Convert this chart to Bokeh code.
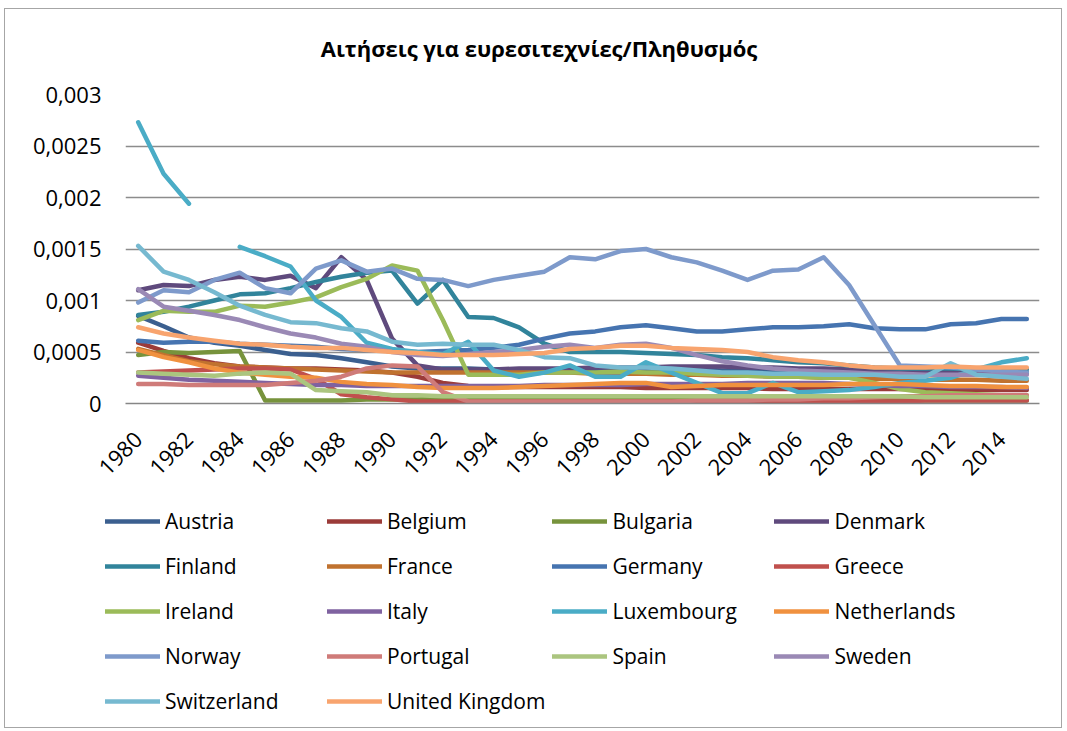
import numpy as np
from bokeh.plotting import figure
from bokeh.layouts import column
from bokeh.models import (Legend, LegendItem, FixedTicker, Range1d, Label,
                          CustomJSTickFormatter, ColumnDataSource)
from bokeh.embed import file_html
from bokeh.resources import INLINE
from math import pi

years = list(range(1980, 2016))

Austria = [0.00085,0.00075,0.00064,0.00059,0.00056,0.00052,0.00048,0.00047,0.00044,0.00040,0.00036,0.00034,0.00034,0.00034,0.00033,0.00032,0.00032,0.00033,0.00033,0.00033,0.00034,0.00033,0.00033,0.00032,0.00032,0.00031,0.00031,0.00031,0.00030,0.00030,0.00030,0.00030,0.00030,0.00030,0.00029,0.00029]
Belgium = [0.00059,0.00051,0.00044,0.00039,0.00036,0.00035,0.00034,0.00034,0.00033,0.00032,0.00030,0.00026,0.00020,0.00017,0.00016,0.00016,0.00016,0.00016,0.00016,0.00016,0.00015,0.00015,0.00015,0.00015,0.00015,0.00014,0.00014,0.00014,0.00014,0.00014,0.00014,0.00014,0.00013,0.00013,0.00013,0.00013]
Bulgaria = [0.00047,0.00050,0.00049,0.00050,0.00051,0.00003,0.00003,0.00003,0.00003,0.00004,0.00004,0.00004,0.00005,0.00005,0.00005,0.00005,0.00005,0.00005,0.00005,0.00005,0.00005,0.00005,0.00005,0.00005,0.00004,0.00004,0.00004,0.00004,0.00004,0.00003,0.00003,0.00003,0.00003,0.00003,0.00003,0.00003]
Denmark = [0.00110,0.00115,0.00114,0.00120,0.00123,0.00120,0.00124,0.00112,0.00142,0.00120,0.00063,0.00037,0.00033,0.00033,0.00033,0.00034,0.00034,0.00034,0.00035,0.00035,0.00035,0.00036,0.00036,0.00036,0.00035,0.00035,0.00034,0.00034,0.00033,0.00032,0.00031,0.00031,0.00030,0.00030,0.00030,0.00030]
Finland = [0.00086,0.00089,0.00094,0.00100,0.00106,0.00107,0.00112,0.00118,0.00123,0.00127,0.00129,0.00097,0.00120,0.00084,0.00083,0.00074,0.00058,0.00050,0.00050,0.00050,0.00049,0.00048,0.00047,0.00045,0.00044,0.00042,0.00040,0.00039,0.00037,0.00035,0.00034,0.00034,0.00034,0.00033,0.00033,0.00033]
France = [0.00053,0.00047,0.00041,0.00038,0.00036,0.00035,0.00034,0.00033,0.00032,0.00031,0.00030,0.00030,0.00030,0.00030,0.00030,0.00030,0.00030,0.00030,0.00029,0.00029,0.00029,0.00028,0.00028,0.00027,0.00027,0.00026,0.00026,0.00025,0.00025,0.00024,0.00024,0.00023,0.00023,0.00023,0.00022,0.00022]
Germany = [0.00061,0.00059,0.00060,0.00060,0.00058,0.00057,0.00056,0.00055,0.00053,0.00052,0.00051,0.00050,0.00051,0.00052,0.00054,0.00057,0.00063,0.00068,0.00070,0.00074,0.00076,0.00073,0.00070,0.00070,0.00072,0.00074,0.00074,0.00075,0.00077,0.00073,0.00072,0.00072,0.00077,0.00078,0.00082,0.00082]
Greece = [0.00030,0.00031,0.00032,0.00033,0.00034,0.00034,0.00033,0.00024,0.00009,0.00006,0.00004,0.00002,0.00002,0.00002,0.00002,0.00002,0.00002,0.00002,0.00002,0.00002,0.00002,0.00002,0.00002,0.00002,0.00002,0.00002,0.00002,0.00002,0.00002,0.00002,0.00002,0.00003,0.00003,0.00003,0.00003,0.00003]
Ireland = [0.00081,0.00090,0.00089,0.00089,0.00095,0.00094,0.00098,0.00103,0.00113,0.00121,0.00134,0.00129,0.00081,0.00028,0.00028,0.00028,0.00030,0.00030,0.00030,0.00031,0.00030,0.00030,0.00029,0.00028,0.00027,0.00026,0.00026,0.00025,0.00025,0.00020,0.00014,0.00011,0.00010,0.00009,0.00008,0.00008]
Italy = [0.00027,0.00025,0.00023,0.00022,0.00021,0.00020,0.00019,0.00018,0.00018,0.00017,0.00017,0.00017,0.00017,0.00017,0.00017,0.00017,0.00018,0.00018,0.00018,0.00018,0.00019,0.00019,0.00019,0.00019,0.00020,0.00020,0.00020,0.00020,0.00019,0.00018,0.00017,0.00017,0.00016,0.00016,0.00016,0.00015]
Luxembourg = [0.00273,0.00223,0.00194,None,0.00152,0.00143,0.00133,0.00100,0.00084,0.00059,0.00053,0.00050,0.00048,0.00060,0.00032,0.00026,0.00030,0.00037,0.00026,0.00026,0.00040,0.00030,0.00020,0.00010,0.00010,0.00020,0.00011,0.00012,0.00013,0.00016,0.00020,0.00022,0.00025,0.00033,0.00040,0.00044]
Netherlands = [0.00052,0.00045,0.00040,0.00034,0.00030,0.00028,0.00026,0.00025,0.00021,0.00019,0.00018,0.00016,0.00015,0.00015,0.00015,0.00016,0.00017,0.00018,0.00019,0.00020,0.00020,0.00016,0.00017,0.00018,0.00018,0.00018,0.00018,0.00018,0.00019,0.00019,0.00019,0.00018,0.00017,0.00017,0.00016,0.00016]
Norway = [0.00098,0.00110,0.00108,0.00120,0.00127,0.00112,0.00107,0.00131,0.00139,0.00128,0.00131,0.00121,0.00120,0.00114,0.00120,0.00124,0.00128,0.00142,0.00140,0.00148,0.00150,0.00142,0.00137,0.00129,0.00120,0.00129,0.00130,0.00142,0.00115,0.00076,0.00037,0.00036,0.00035,0.00033,0.00031,0.00030]
Portugal = [0.00019,0.00019,0.00018,0.00018,0.00018,0.00018,0.00020,0.00022,0.00026,0.00034,0.00037,0.00036,0.00011,0.00002,0.00002,0.00002,0.00002,0.00002,0.00002,0.00002,0.00002,0.00002,0.00003,0.00003,0.00003,0.00004,0.00004,0.00005,0.00005,0.00006,0.00007,0.00007,0.00008,0.00008,0.00008,0.00008]
Spain = [0.00030,0.00029,0.00028,0.00027,0.00029,0.00030,0.00029,0.00013,0.00012,0.00011,0.00008,0.00008,0.00007,0.00007,0.00007,0.00007,0.00007,0.00007,0.00007,0.00007,0.00007,0.00007,0.00007,0.00007,0.00007,0.00007,0.00007,0.00007,0.00007,0.00007,0.00007,0.00006,0.00006,0.00006,0.00006,0.00006]
Sweden = [0.00111,0.00094,0.00090,0.00086,0.00081,0.00074,0.00068,0.00064,0.00058,0.00055,0.00050,0.00047,0.00046,0.00048,0.00050,0.00052,0.00055,0.00057,0.00054,0.00057,0.00058,0.00054,0.00047,0.00041,0.00037,0.00034,0.00032,0.00031,0.00030,0.00029,0.00029,0.00028,0.00028,0.00028,0.00028,0.00028]
Switzerland = [0.00153,0.00128,0.00120,0.00108,0.00095,0.00086,0.00079,0.00078,0.00073,0.00070,0.00060,0.00057,0.00058,0.00057,0.00057,0.00052,0.00045,0.00044,0.00037,0.00035,0.00035,0.00034,0.00032,0.00030,0.00030,0.00029,0.00029,0.00028,0.00028,0.00028,0.00026,0.00026,0.00039,0.00028,0.00026,0.00024]
United_Kingdom = [0.00074,0.00068,0.00064,0.00061,0.00058,0.00057,0.00055,0.00054,0.00054,0.00052,0.00050,0.00049,0.00047,0.00047,0.00047,0.00048,0.00049,0.00053,0.00054,0.00056,0.00056,0.00054,0.00053,0.00052,0.00050,0.00045,0.00042,0.00040,0.00037,0.00035,0.00035,0.00035,0.00036,0.00035,0.00035,0.00035]

series = [
    ("Austria", Austria, "#3B5F8F"),
    ("Belgium", Belgium, "#9B3B39"),
    ("Bulgaria", Bulgaria, "#77933C"),
    ("Denmark", Denmark, "#5F4A7D"),
    ("Finland", Finland, "#31849B"),
    ("France", France, "#C0722F"),
    ("Germany", Germany, "#4674B0"),
    ("Greece", Greece, "#C0504D"),
    ("Ireland", Ireland, "#9BBB59"),
    ("Italy", Italy, "#7F62A0"),
    ("Luxembourg", Luxembourg, "#4AACC6"),
    ("Netherlands", Netherlands, "#F0913F"),
    ("Norway", Norway, "#7E9ACB"),
    ("Portugal", Portugal, "#CF7B79"),
    ("Spain", Spain, "#ABC57F"),
    ("Sweden", Sweden, "#9A89B5"),
    ("Switzerland", Switzerland, "#76B9D0"),
    ("United Kingdom", United_Kingdom, "#F8A46E"),
]

TITLE = "Αιτήσεις για ευρεσιτεχνίες/Πληθυσμός"
FONT = "Open Sans"
LW = 4.5
W = 1058


def bare(fig):
    fig.frame_align = False
    fig.outline_line_color = None
    fig.border_fill_alpha = 0
    fig.background_fill_alpha = 0


# title strip (its frame is the whole canvas, in pixel units)
tf = figure(width=W, height=71, output_backend="svg", toolbar_location=None,
            title=None, x_range=Range1d(0, W), y_range=Range1d(0, 71),
            x_axis_location=None, y_axis_location=None,
            min_border_left=0, min_border_right=0, min_border_top=0,
            min_border_bottom=0)
bare(tf)
tf.grid.visible = False
tf.add_layout(Label(x=534.5, y=32, text=TITLE, text_align="center",
                    text_baseline="middle", text_font=FONT,
                    text_font_style="bold", text_font_size="22px",
                    text_color="black"))

# main chart
p = figure(width=W, height=414, output_backend="svg", toolbar_location=None,
           title=None, x_range=Range1d(1979.5, 2015.5), y_range=Range1d(0, 0.003),
           min_border_left=121, min_border_right=23, min_border_top=15,
           min_border_bottom=90)
bare(p)

sources = []
for name, vals, color in series:
    y = np.array([np.nan if v is None else v for v in vals], dtype=float)
    src = ColumnDataSource(dict(x=years, y=y))
    sources.append(src)
    p.line("x", "y", source=src, line_color=color, line_width=LW,
           line_cap="round", line_join="round")

p.yaxis.ticker = FixedTicker(ticks=[0, 0.0005, 0.001, 0.0015, 0.002, 0.0025, 0.003])
p.yaxis.formatter = CustomJSTickFormatter(code="return tick.toString().replace('.', ',');")
p.yaxis.axis_line_color = None
p.yaxis.major_tick_line_color = None
p.yaxis.minor_tick_line_color = None
p.yaxis.major_label_standoff = 18
p.yaxis.major_label_text_font = FONT
p.yaxis.major_label_text_font_size = "22px"
p.yaxis.major_label_text_color = "black"

p.xaxis.ticker = FixedTicker(ticks=years[::2])
p.xaxis.axis_line_color = "#868686"
p.xaxis.axis_line_width = 1.5
p.xaxis.major_tick_line_color = None
p.xaxis.minor_tick_line_color = None
p.xaxis.major_label_orientation = pi / 4
p.xaxis.major_label_standoff = 26
p.xaxis.major_label_text_font = FONT
p.xaxis.major_label_text_font_size = "22px"
p.xaxis.major_label_text_color = "black"

p.xgrid.grid_line_color = None
p.ygrid.grid_line_color = "#8C8C8C"
p.ygrid.grid_line_width = 1.5

# legend canvas below the chart; its line renderers use the same series
# but the ranges keep them out of view, so only the legend shows
lg = figure(width=W, height=235, output_backend="svg", toolbar_location=None,
            title=None, x_range=Range1d(1979.5, 2015.5), y_range=Range1d(10, 11),
            x_axis_location=None, y_axis_location=None,
            min_border_left=0, min_border_right=0, min_border_top=0,
            min_border_bottom=0)
bare(lg)
lg.grid.visible = False

items = []
for (name, vals, color), src in zip(series, sources):
    r = lg.line("x", "y", source=src, line_color=color, line_width=LW,
                line_cap="round", line_join="round")
    items.append(LegendItem(label=name, renderers=[r]))

legend = Legend(items=items, ncols=4, orientation="horizontal",
                location=(101, 8),
                glyph_width=55, glyph_height=38, label_standoff=5,
                label_width=155, spacing=7, padding=0, margin=0,
                label_text_font=FONT, label_text_font_size="21px",
                label_text_color="black",
                border_line_color=None, background_fill_alpha=0)
lg.add_layout(legend, "center")

layout = column(tf, p, lg, spacing=0)
layout.styles = {"margin-left": "4px", "margin-top": "8px",
                 "background-color": "white",
                 "box-shadow": "inset 0 0 0 1px #A6A6A6"}
open("out.html", "w").write(file_html(layout, INLINE))
